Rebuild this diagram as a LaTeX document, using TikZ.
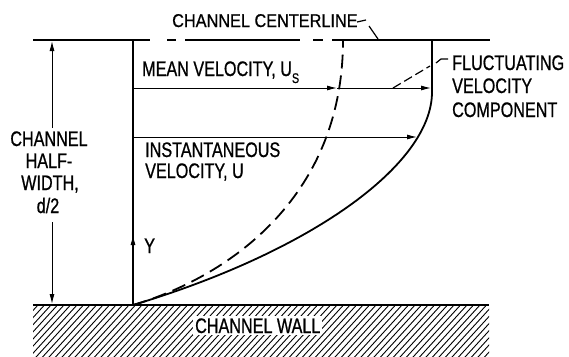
\documentclass[tikz,border=0pt]{standalone}
\usepackage{fontspec}
\setmainfont{Liberation Sans}[FakeStretch=0.77,FakeBold=0.8]
\newfontfamily\topfont{Liberation Sans}[FakeStretch=0.88,FakeBold=0.8]
\usetikzlibrary{arrows.meta}
\begin{document}
\begin{tikzpicture}[x=1pt,y=-1pt,
  lbl/.style={font=\fontsize{21}{22}\selectfont, inner sep=0pt, anchor=base west},
  clbl/.style={font=\fontsize{21}{22}\selectfont, inner sep=0pt, anchor=base},
  toplbl/.style={font=\topfont\fontsize{18.5}{20}\selectfont, inner sep=0pt, anchor=base west},
  arr/.style={-{Latex[length=10pt,width=5pt]}, line width=1pt},
  frame/.style={line width=1.3pt},
  prof/.style={line width=1.8pt},
  leader/.style={line width=1.2pt},
  hatch/.style={line width=0.9pt}]
\useasboundingbox (0,0) rectangle (569,356);

% key points
\coordinate (O) at (133,305);
\coordinate (Ytop) at (133,40);
\coordinate (Yarr) at (133,235);
\coordinate (wl) at (33,305);
\coordinate (wr) at (489,305);
\coordinate (cl0) at (33,40);
\coordinate (cl1) at (490,40);
\coordinate (s1) at (432,92);
\coordinate (stop) at (432,40);
\coordinate (dtop) at (343,40);
\coordinate (m0) at (133,88);
\coordinate (m1) at (337,88);
\coordinate (m2) at (431,88);
\coordinate (i0) at (133,137);
\coordinate (i1) at (417,137);
\coordinate (d1) at (52,128);
\coordinate (dT) at (52,41);
\coordinate (d2) at (52,222);
\coordinate (dB) at (52,304);
\coordinate (f0) at (393,88);
\coordinate (f1) at (430,66);
\coordinate (f2) at (436,63);
\coordinate (f3) at (441,59);
\coordinate (f4) at (448,59);
\coordinate (c0) at (357,22);
\coordinate (c1) at (366,20);
\coordinate (c2) at (369,26);
\coordinate (c3) at (378,39);

% hatching of wall
\begin{scope}
  \clip (33,305) rectangle (489,356);
  \foreach \x in {-40,-33.5,...,500} \draw[hatch] (\x,362) -- ++(52,-57);
\end{scope}
\node[lbl, fill=white, inner sep=2pt] (wall) at (193,333) {CHANNEL WALL};
\draw[frame] (wl) -- (wr);

% centerline
\draw[frame, dash pattern=on 117pt off 17pt on 9pt off 9pt on 115pt off 13pt on 10pt off 9pt on 200pt] (cl0) -- (cl1);

% Y axis
\draw[frame] (O) -- (Ytop);
\draw[arr] (O) -- (Yarr);
\node[lbl] (ylab) at (144,253) {Y};

% velocity arrows
\draw[arr] (m0) -- (m1);
\draw[arr] (m1) -- (m2);
\draw[arr] (i0) -- (i1);

% profiles
\draw[prof] (O) .. controls (310,252) and (432,165) .. (s1) -- (stop);
\draw[prof, dash pattern=on 14pt off 7pt] (O) .. controls (225,278) and (343,200) .. (dtop);

% half-width dimension
\draw[arr] (d1) -- (dT);
\draw[arr] (d2) -- (dB);
\node[clbl] (hw1) at (49,146) {CHANNEL};
\node[clbl] (hw2) at (49,168) {HALF-};
\node[clbl] (hw3) at (50,190) {WIDTH,};
\node[clbl] (hw4) at (48,213) {d/2};

% labels
\node[toplbl] (ccl) at (172,27) {CHANNEL CENTERLINE};
\draw[leader] (c0) -- (c1) (c2) -- (c3);
\node[lbl] (mv) at (142,76) {MEAN VELOCITY, U\raisebox{-7pt}{\fontsize{14}{14}\selectfont S}};
\node[lbl] (in1) at (145,157) {INSTANTANEOUS};
\node[lbl] (in2) at (145,178) {VELOCITY, U};
\node[lbl] (fl1) at (452,70) {FLUCTUATING};
\node[lbl] (fl2) at (452,93) {VELOCITY};
\node[lbl] (fl3) at (452,117) {COMPONENT};
\draw[leader, dash pattern=on 9pt off 4pt] (f0) -- (f1);
\draw[leader] (f2) -- (f3) -- (f4);
\end{tikzpicture}
\end{document}
